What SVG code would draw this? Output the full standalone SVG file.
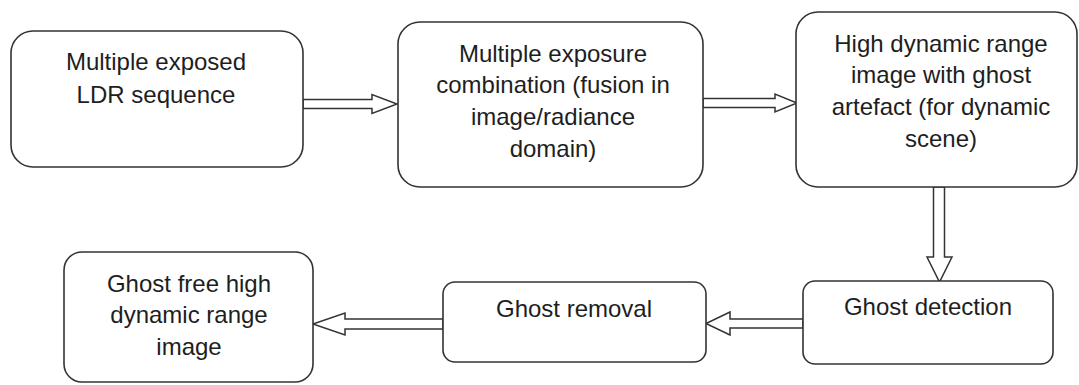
<svg xmlns="http://www.w3.org/2000/svg" width="1079" height="385" viewBox="0 0 1079 385">
<style>
.box{fill:#fff;stroke:#333;stroke-width:1.6}
.arr{fill:#fff;stroke:#333;stroke-width:1.5;stroke-linejoin:miter}
text{font-family:"Liberation Sans",Arial,sans-serif;font-size:24px;fill:#1e1e1e;text-anchor:middle}
</style>
<rect width="1079" height="385" fill="#fff"/>
<g id="connectors">
<path class="arr" d="M303,99.5 H372 V94.5 L397,104 L372,113.5 V108.5 H303 Z"/>
<path class="arr" d="M703,98.5 H775 V94 L797,103 L775,112 V107.5 H703 Z"/>
<path class="arr" d="M933.5,187 V257 H927 L939.5,282 L952,257 H944.5 V187 Z"/>
<path class="arr" d="M803,319 H730 V312 L706,323.5 L730,335 V328 H803 Z"/>
<path class="arr" d="M443,319 H345 V313 L313,324 L345,335 V329 H443 Z"/>
</g>
<g id="n1">
<rect class="box" x="11" y="31" width="292" height="136" rx="22"/>
<text x="156" y="70">Multiple exposed</text>
<text x="156" y="103">LDR sequence</text>
</g>
<g id="n2">
<rect class="box" x="398" y="22" width="305" height="165" rx="22"/>
<text x="553" y="62">Multiple exposure</text>
<text x="553" y="93">combination (fusion in</text>
<text x="553" y="125">image/radiance</text>
<text x="553" y="157">domain)</text>
</g>
<g id="n3">
<rect class="box" x="796" y="12" width="281" height="175" rx="22"/>
<text x="941" y="52">High dynamic range</text>
<text x="941" y="83">image with ghost</text>
<text x="941" y="115">artefact (for dynamic</text>
<text x="941" y="147">scene)</text>
</g>
<g id="n4">
<rect class="box" x="803" y="281" width="250" height="83" rx="12"/>
<text x="928" y="315">Ghost detection</text>
</g>
<g id="n5">
<rect class="box" x="443" y="282" width="263" height="80" rx="12"/>
<text x="574" y="317">Ghost removal</text>
</g>
<g id="n6">
<rect class="box" x="64" y="252" width="249" height="130" rx="18"/>
<text x="189" y="292">Ghost free high</text>
<text x="189" y="323">dynamic range</text>
<text x="189" y="355">image</text>
</g>
</svg>
